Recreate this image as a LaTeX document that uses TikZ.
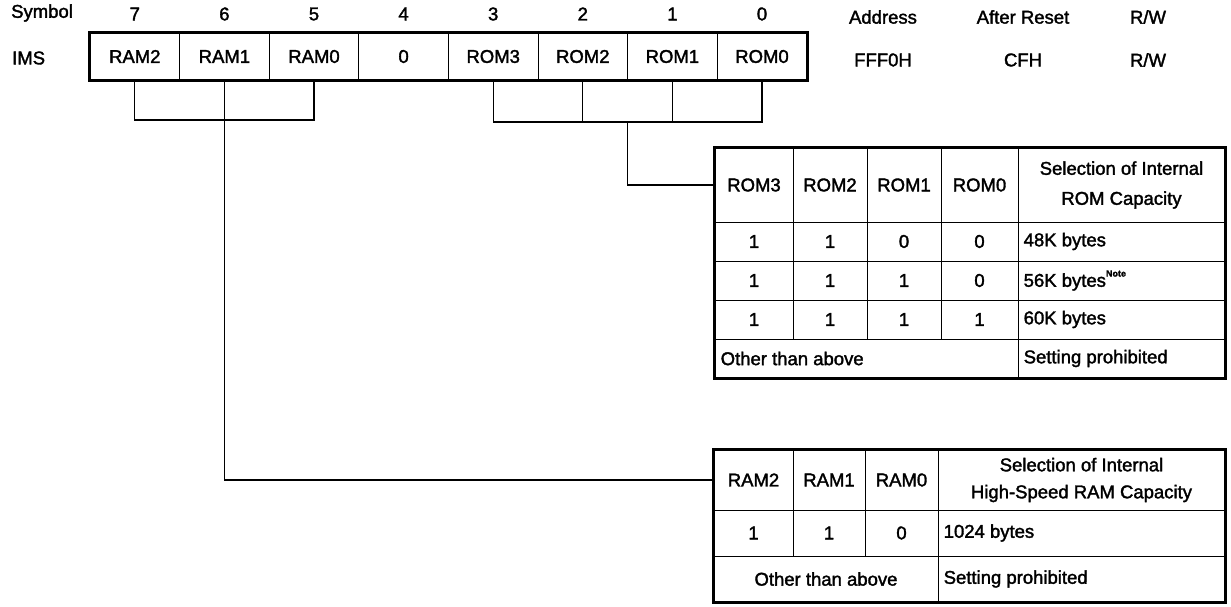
\documentclass[tikz,border=0pt]{standalone}
\usepackage{fontspec}
\setmainfont{Liberation Sans}[FakeBold=1.8]
\newcommand\tcell[6]{\node[tcellst, minimum width=#4pt, minimum height=#5pt] (#1) at (#2+#4/2,#3+#5/2) {#6};}
\begin{document}
\begin{tikzpicture}[x=1pt,y=-1pt,
  txt/.style={font=\fontsize{18.5}{22}\selectfont, inner sep=0pt},
  ltxt/.style={txt, anchor=west},
  regcell/.style={txt, draw, line width=1pt, minimum width=89.6pt, minimum height=47pt},
  tcellst/.style={txt, draw, line width=1pt, align=center},
  frameln/.style={line width=2.4pt},
  rowln/.style={line width=1.8pt},
  wire/.style={line width=1.2pt}]
\useasboundingbox (0,0) rectangle (1231,607);

% header labels
\node[ltxt] (sym) at (11,13) {Symbol};
\node[ltxt] (ims) at (12,58) {IMS};
\foreach \i/\t [count=\k from 0] in {7/RAM2,6/RAM1,5/RAM0,4/0,3/ROM3,2/ROM2,1/ROM1,0/ROM0} {
  \node[regcell] (b\i) at (134.8+89.6*\k,56.5) {\t};
  \node[txt] (n\i) at (134.8+89.6*\k,14) {\i};
}
\draw[frameln] (b7.north west) rectangle (b0.south east);
\node[txt] (addr) at (883,17) {Address};
\node[txt] (ares) at (1023,17) {After Reset};
\node[txt] (rw) at (1148,17) {R/W};
\node[txt] (addrv) at (883,60) {FFF0H};
\node[txt] (aresv) at (1023,60) {CFH};
\node[txt] (rwv) at (1148,60) {R/W};

% ROM table
\tcell{rh3}{715}{148}{78}{74}{ROM3}
\tcell{rh2}{793}{148}{74}{74}{ROM2}
\tcell{rh1}{867}{148}{74}{74}{ROM1}
\tcell{rh0}{941}{148}{77}{74}{ROM0}
\tcell{rhs}{1018}{148}{207}{74}{Selection of Internal\\[8pt]ROM Capacity}
\foreach \r/\y/\a/\b/\c/\d in {1/222/1/1/0/0, 2/261/1/1/1/0, 3/300/1/1/1/1} {
  \tcell{ra\r}{715}{\y}{78}{39}{\a}
  \tcell{rb\r}{793}{\y}{74}{39}{\b}
  \tcell{rc\r}{867}{\y}{74}{39}{\c}
  \tcell{rd\r}{941}{\y}{77}{39}{\d}
  \tcell{rs\r}{1018}{\y}{207}{39}{}
}
\node[ltxt] (rt1) at ([xshift=6pt]rs1.west) {48K bytes};
\node[ltxt] (rt2) at ([xshift=6pt]rs2.west) {56K bytes\raisebox{0.55em}{\fontsize{9}{9}\selectfont\bfseries Note}};
\node[ltxt] (rt3) at ([xshift=6pt]rs3.west) {60K bytes};
\tcell{ro}{715}{339}{303}{39}{}
\tcell{rsp}{1018}{339}{207}{39}{}
\node[ltxt] (rot) at ([xshift=6pt]ro.west) {Other than above};
\node[ltxt] (rspt) at ([xshift=6pt]rsp.west) {Setting prohibited};
\draw[rowln] (rh3.south west) -- (rhs.south east);
\draw[rowln] (ra1.south west) -- (rs1.south east);
\draw[rowln] (ra2.south west) -- (rs2.south east);
\draw[rowln] (ra3.south west) -- (rs3.south east);
\draw[frameln] (rh3.north west) rectangle (rsp.south east);

% RAM table
\tcell{mh2}{714}{450}{79}{60}{RAM2}
\tcell{mh1}{793}{450}{72}{60}{RAM1}
\tcell{mh0}{865}{450}{73}{60}{RAM0}
\tcell{mhs}{938}{450}{287}{60}{Selection of Internal\\[5pt]High-Speed RAM Capacity}
\tcell{ma}{714}{510}{79}{46}{1}
\tcell{mb}{793}{510}{72}{46}{1}
\tcell{mc}{865}{510}{73}{46}{0}
\tcell{ms}{938}{510}{287}{46}{}
\node[ltxt] (mst) at ([xshift=6pt]ms.west) {1024 bytes};
\tcell{mo}{714}{556}{224}{46}{Other than above}
\tcell{msp}{938}{556}{287}{46}{}
\node[ltxt] (mspt) at ([xshift=6pt]msp.west) {Setting prohibited};
\draw[rowln] (mh2.south west) -- (mhs.south east);
\draw[rowln] (ma.south west) -- (ms.south east);
\draw[frameln] (mh2.north west) rectangle (msp.south east);

% connectors
\coordinate (ramjoin) at (b6.south |- 0,120);
\coordinate (romjoin) at (627.6,122);
\draw[wire] (b7.south) |- (ramjoin) -| (b5.south);
\draw[wire] (b6.south) -- (ramjoin) |- (mh2.west);
\draw[wire] (b3.south) |- (romjoin) -| (b0.south);
\draw[wire] (b2.south) -- (b2.south |- romjoin);
\draw[wire] (b1.south) -- (b1.south |- romjoin);
\draw[wire] (romjoin) |- (rh3.west);
\end{tikzpicture}
\end{document}
